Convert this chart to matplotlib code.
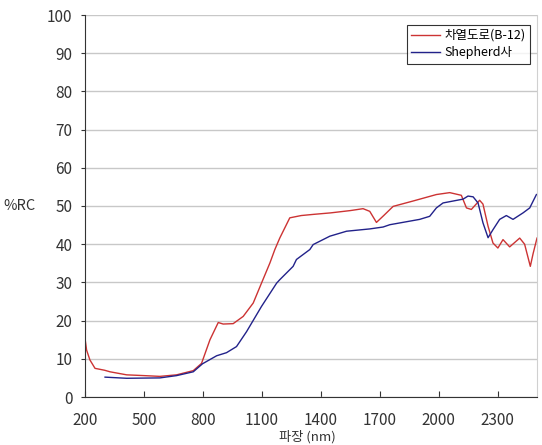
import matplotlib
matplotlib.use("Agg")
import matplotlib.pyplot as plt

plt.rcParams['font.family'] = ['Noto Sans CJK KR', 'DejaVu Sans']

# Red series: 차열도로(B-12)
red_nm = [200, 208, 225, 251, 300, 327, 412, 500, 581, 666, 751, 793, 836, 878, 903, 954,
          1005, 1056, 1098, 1141, 1166, 1191, 1242, 1300, 1361, 1450, 1550, 1615, 1649, 1683,
          1720, 1768, 1869, 1988, 2056, 2115, 2141, 2166, 2208, 2225, 2251, 2276, 2301, 2327,
          2361, 2412, 2437, 2466, 2480, 2500]
red_val = [15.4, 12.3, 9.7, 7.5, 7.0, 6.6, 5.8, 5.6, 5.4, 5.8, 6.9, 8.8, 15.0, 19.5, 19.1, 19.2,
           21.1, 24.6, 29.8, 35.1, 38.6, 41.6, 46.9, 47.5, 47.8, 48.2, 48.8, 49.3, 48.6, 45.7,
           47.5, 49.9, 51.3, 53.0, 53.5, 52.8, 49.5, 49.1, 51.5, 50.5, 44.7, 40.3, 39.0, 41.2,
           39.3, 41.6, 40.0, 34.2, 37.5, 41.6]

# Blue series: Shepherd사
blue_nm = [302, 412, 581, 666, 751, 798, 870, 920, 971, 1022, 1098, 1175, 1191, 1259, 1276,
           1344, 1361, 1446, 1531, 1649, 1717, 1751, 1903, 1954, 1988, 2022, 2073, 2124,
           2149, 2175, 2200, 2225, 2251, 2276, 2310, 2344, 2378, 2429, 2463, 2497]
blue_val = [5.2, 4.9, 5.0, 5.6, 6.6, 8.7, 10.8, 11.6, 13.2, 17.1, 23.7, 29.8, 30.7, 34.2, 36.0,
            38.6, 39.9, 42.1, 43.4, 44.0, 44.5, 45.1, 46.5, 47.3, 49.5, 50.8, 51.3, 51.8,
            52.6, 52.4, 50.8, 45.6, 41.7, 43.8, 46.5, 47.5, 46.5, 48.2, 49.5, 53.0]

xticks = [200, 500, 800, 1100, 1400, 1700, 2000, 2300]
yticks = list(range(0, 101, 10))

fig = plt.figure(figsize=(5.42, 4.45), dpi=100)
ax = fig.add_axes([85/542, 1-397/445, (537-85)/542, (397-15)/445])

ax.plot(red_nm, red_val, color='#cc3333', lw=1.0, label='차열도로(B-12)')
ax.plot(blue_nm, blue_val, color='#22228a', lw=1.0, label='Shepherd사')

ax.set_xlim(200, 2500)
ax.set_ylim(0, 100)
ax.set_xticks(xticks)
ax.set_yticks(yticks)
ax.tick_params(axis='x', direction='in', length=4, labelsize=11, pad=11, colors='#333333')
ax.tick_params(axis='y', direction='out', length=3, labelsize=11, pad=6, colors='#333333')

ax.yaxis.grid(True, color='#c8c8c8', lw=1.0)
ax.set_axisbelow(True)
ax.spines['top'].set_visible(False)
ax.spines['right'].set_color('#d0d0d0')
ax.spines['left'].set_color('#333333')
ax.spines['bottom'].set_color('#333333')

ax.text(0.491, -0.104, '파장 (nm)', transform=ax.transAxes, fontsize=9.5, color='#333333',
        ha='center', va='center')
ax.text(-0.18, 0.5, '%RC', transform=ax.transAxes, fontsize=10.5, color='#333333',
        ha='left', va='center')

leg = ax.legend(loc='upper right', bbox_to_anchor=(0.985, 0.975), fontsize=9,
                frameon=True, fancybox=False, handlelength=2.3, borderpad=0.35,
                labelspacing=0.35, handletextpad=0.4, borderaxespad=0)
leg.get_frame().set_edgecolor('black')
leg.get_frame().set_linewidth(0.8)

fig.savefig('out.png', dpi=100)
